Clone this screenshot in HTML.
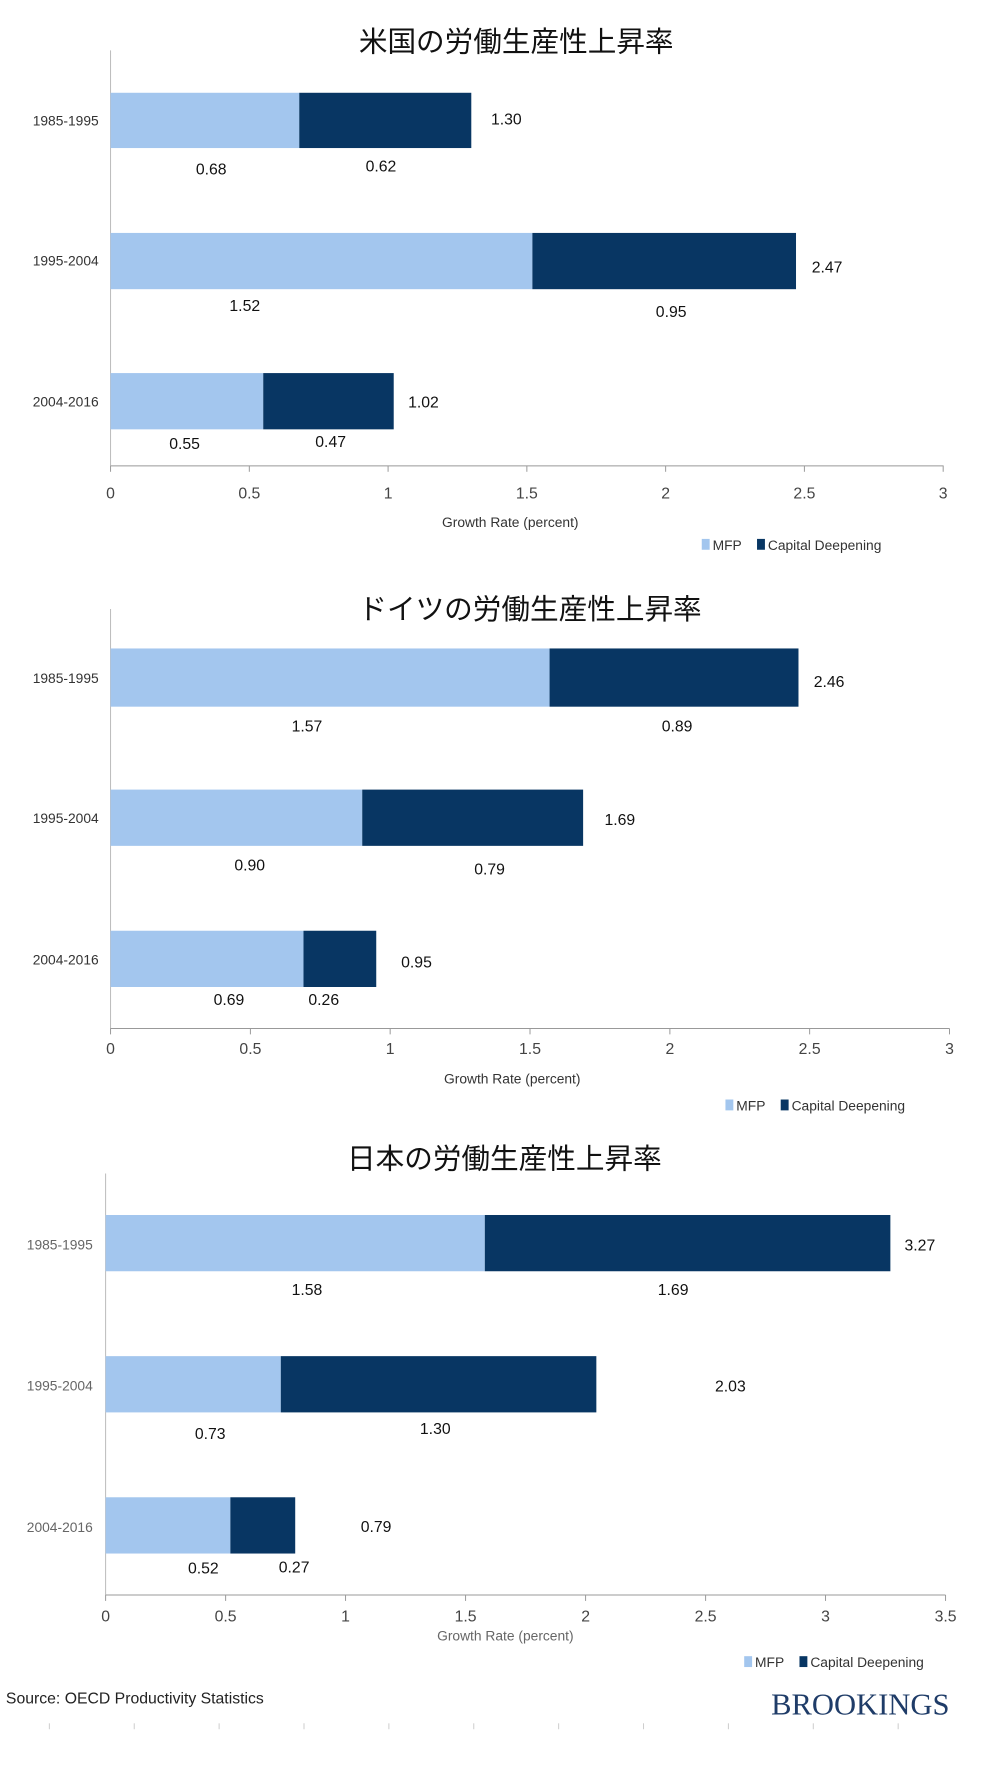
<!DOCTYPE html>
<html><head><meta charset="utf-8"><style>
html,body{margin:0;padding:0;background:#fff;}
svg{display:block;font-family:"Liberation Sans","Noto Sans CJK JP",sans-serif;}
.t{font-size:29px;fill:#111;text-anchor:middle;font-family:"Noto Sans CJK JP","Liberation Sans",sans-serif;}
.c{font-size:14px;fill:#333;text-anchor:end;}
.v{font-size:16px;fill:#111;text-anchor:middle;}
.k{font-size:16px;fill:#444;text-anchor:middle;}
.a{font-size:14px;fill:#333;text-anchor:middle;}
.l{font-size:14px;fill:#333;}
</style></head><body>
<svg width="1006" height="1770" viewBox="0 0 1006 1770">
<g transform="scale(0.987)">
<!-- Chart 1 -->
<text class="t" x="523" y="52">米国の労働生産性上昇率</text>
<line x1="112" y1="51" x2="112" y2="472" stroke="#bbb"/>
<line x1="112" y1="472" x2="956" y2="472" stroke="#999"/>
<g stroke="#999"><line x1="112" y1="472" x2="112" y2="478"/><line x1="252.6" y1="472" x2="252.6" y2="478"/><line x1="393.2" y1="472" x2="393.2" y2="478"/><line x1="533.8" y1="472" x2="533.8" y2="478"/><line x1="674.4" y1="472" x2="674.4" y2="478"/><line x1="815" y1="472" x2="815" y2="478"/><line x1="955.6" y1="472" x2="955.6" y2="478"/></g>
<g class="k"><text x="112" y="505">0</text><text x="252.6" y="505">0.5</text><text x="393.2" y="505">1</text><text x="533.8" y="505">1.5</text><text x="674.4" y="505">2</text><text x="815" y="505">2.5</text><text x="955.6" y="505">3</text></g>
<rect x="112" y="94" width="191.2" height="56" fill="#a3c6ee"/><rect x="303.2" y="94" width="174.3" height="56" fill="#083663"/>
<rect x="112" y="236" width="427.4" height="57" fill="#a3c6ee"/><rect x="539.4" y="236" width="267.1" height="57" fill="#083663"/>
<rect x="112" y="378" width="154.7" height="57" fill="#a3c6ee"/><rect x="266.7" y="378" width="132.2" height="57" fill="#083663"/>
<g class="c"><text x="100" y="127">1985-1995</text><text x="100" y="269">1995-2004</text><text x="100" y="412">2004-2016</text></g>
<g class="v"><text x="513" y="126">1.30</text><text x="214" y="177">0.68</text><text x="386" y="174">0.62</text><text x="838" y="276">2.47</text><text x="248" y="315">1.52</text><text x="680" y="321">0.95</text><text x="429" y="413">1.02</text><text x="187" y="455">0.55</text><text x="335" y="453">0.47</text></g>
<text class="a" x="517" y="534">Growth Rate (percent)</text>
<rect x="711" y="546" width="8" height="11" fill="#a3c6ee"/><text class="l" x="722" y="557">MFP</text>
<rect x="767" y="546" width="8" height="11" fill="#083663"/><text class="l" x="778" y="557">Capital Deepening</text>

<!-- Chart 2 -->
<text class="t" x="537" y="627">ドイツの労働生産性上昇率</text>
<line x1="112" y1="617" x2="112" y2="1042" stroke="#bbb"/>
<line x1="112" y1="1042" x2="962" y2="1042" stroke="#999"/>
<g stroke="#999"><line x1="112" y1="1042" x2="112" y2="1048"/><line x1="253.7" y1="1042" x2="253.7" y2="1048"/><line x1="395.3" y1="1042" x2="395.3" y2="1048"/><line x1="537" y1="1042" x2="537" y2="1048"/><line x1="678.7" y1="1042" x2="678.7" y2="1048"/><line x1="820.3" y1="1042" x2="820.3" y2="1048"/><line x1="962" y1="1042" x2="962" y2="1048"/></g>
<g class="k"><text x="112" y="1068">0</text><text x="253.7" y="1068">0.5</text><text x="395.3" y="1068">1</text><text x="537" y="1068">1.5</text><text x="678.7" y="1068">2</text><text x="820.3" y="1068">2.5</text><text x="962" y="1068">3</text></g>
<rect x="112" y="657" width="444.8" height="59" fill="#a3c6ee"/><rect x="556.8" y="657" width="252.2" height="59" fill="#083663"/>
<rect x="112" y="800" width="255" height="57" fill="#a3c6ee"/><rect x="367" y="800" width="223.8" height="57" fill="#083663"/>
<rect x="112" y="943" width="195.5" height="57" fill="#a3c6ee"/><rect x="307.5" y="943" width="73.7" height="57" fill="#083663"/>
<g class="c"><text x="100" y="692">1985-1995</text><text x="100" y="834">1995-2004</text><text x="100" y="977">2004-2016</text></g>
<g class="v"><text x="840" y="696">2.46</text><text x="311" y="741">1.57</text><text x="686" y="741">0.89</text><text x="628" y="836">1.69</text><text x="253" y="882">0.90</text><text x="496" y="886">0.79</text><text x="422" y="980">0.95</text><text x="232" y="1018">0.69</text><text x="328" y="1018">0.26</text></g>
<text class="a" x="519" y="1098">Growth Rate (percent)</text>
<rect x="735" y="1114" width="8" height="11" fill="#a3c6ee"/><text class="l" x="746" y="1125">MFP</text>
<rect x="791" y="1114" width="8" height="11" fill="#083663"/><text class="l" x="802" y="1125">Capital Deepening</text>

<!-- Chart 3 -->
<text class="t" x="511" y="1184">日本の労働生産性上昇率</text>
<line x1="107" y1="1189" x2="107" y2="1616" stroke="#bbb"/>
<line x1="107" y1="1616" x2="958" y2="1616" stroke="#999"/>
<g stroke="#999"><line x1="107" y1="1616" x2="107" y2="1622"/><line x1="228.6" y1="1616" x2="228.6" y2="1622"/><line x1="350.1" y1="1616" x2="350.1" y2="1622"/><line x1="471.7" y1="1616" x2="471.7" y2="1622"/><line x1="593.3" y1="1616" x2="593.3" y2="1622"/><line x1="714.9" y1="1616" x2="714.9" y2="1622"/><line x1="836.4" y1="1616" x2="836.4" y2="1622"/><line x1="958" y1="1616" x2="958" y2="1622"/></g>
<g class="k"><text x="107" y="1643">0</text><text x="228.6" y="1643">0.5</text><text x="350.1" y="1643">1</text><text x="471.7" y="1643">1.5</text><text x="593.3" y="1643">2</text><text x="714.9" y="1643">2.5</text><text x="836.4" y="1643">3</text><text x="958" y="1643">3.5</text></g>
<rect x="107" y="1231" width="384.2" height="57" fill="#a3c6ee"/><rect x="491.2" y="1231" width="410.9" height="57" fill="#083663"/>
<rect x="107" y="1374" width="177.5" height="57" fill="#a3c6ee"/><rect x="284.5" y="1374" width="319.7" height="57" fill="#083663"/>
<rect x="107" y="1517" width="126.4" height="57" fill="#a3c6ee"/><rect x="233.4" y="1517" width="65.7" height="57" fill="#083663"/>
<g class="c" style="fill:#666"><text x="94" y="1266">1985-1995</text><text x="94" y="1409">1995-2004</text><text x="94" y="1552">2004-2016</text></g>
<g class="v"><text x="932" y="1267">3.27</text><text x="311" y="1312">1.58</text><text x="682" y="1312">1.69</text><text x="740" y="1410">2.03</text><text x="213" y="1458">0.73</text><text x="441" y="1453">1.30</text><text x="381" y="1552">0.79</text><text x="206" y="1594">0.52</text><text x="298" y="1593">0.27</text></g>
<text class="a" x="512" y="1662" style="fill:#666">Growth Rate (percent)</text>
<rect x="754" y="1678" width="8" height="11" fill="#a3c6ee"/><text class="l" x="765" y="1689">MFP</text>
<rect x="810" y="1678" width="8" height="11" fill="#083663"/><text class="l" x="821" y="1689">Capital Deepening</text>

<text x="6" y="1726" style="font-size:16px;fill:#222">Source: OECD Productivity Statistics</text>
<text x="962" y="1737" style="font-size:31px;fill:#1f3c68;text-anchor:end;font-family:'Liberation Serif',serif">BROOKINGS</text>
<g stroke="#ccc"><line x1="50" y1="1746" x2="50" y2="1752"/><line x1="136" y1="1746" x2="136" y2="1752"/><line x1="222" y1="1746" x2="222" y2="1752"/><line x1="308" y1="1746" x2="308" y2="1752"/><line x1="394" y1="1746" x2="394" y2="1752"/><line x1="480" y1="1746" x2="480" y2="1752"/><line x1="566" y1="1746" x2="566" y2="1752"/><line x1="652" y1="1746" x2="652" y2="1752"/><line x1="738" y1="1746" x2="738" y2="1752"/><line x1="824" y1="1746" x2="824" y2="1752"/><line x1="910" y1="1746" x2="910" y2="1752"/></g>
</g>
</svg>
</body></html>
